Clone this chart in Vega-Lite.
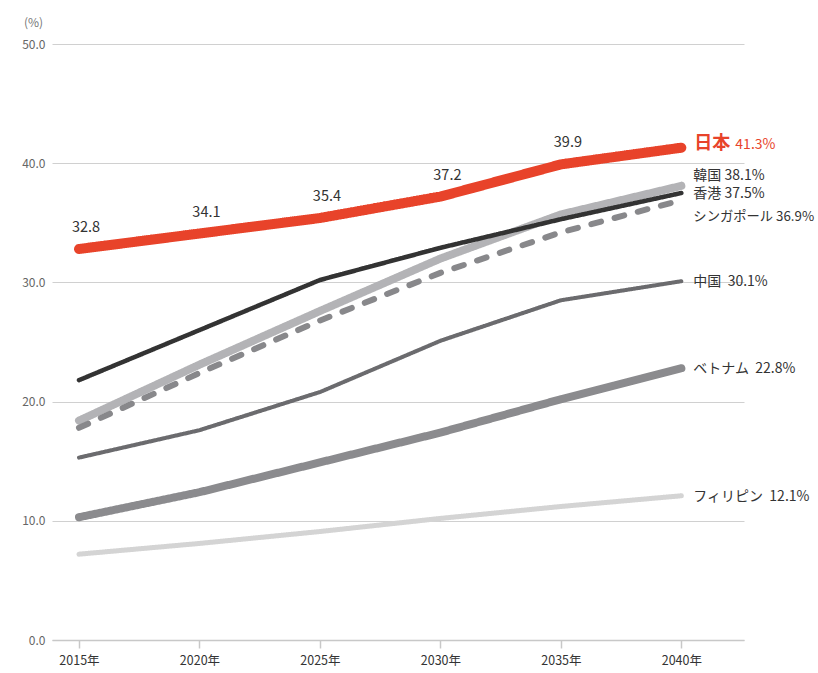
{
  "$schema": "https://vega.github.io/schema/vega-lite/v6.json",
  "width": 692,
  "height": 596,
  "autosize": "none",
  "padding": {"left": 52, "top": 44, "right": 74, "bottom": 33},
  "config": {"view": {"stroke": null}, "font": "Noto Sans CJK JP"},
  "data": {
    "values": [
      {"country": "フィリピン", "year": 2015, "value": 7.2},
      {"country": "フィリピン", "year": 2020, "value": 8.1},
      {"country": "フィリピン", "year": 2025, "value": 9.1},
      {"country": "フィリピン", "year": 2030, "value": 10.2},
      {"country": "フィリピン", "year": 2035, "value": 11.2},
      {"country": "フィリピン", "year": 2040, "value": 12.1},
      {"country": "ベトナム", "year": 2015, "value": 10.3},
      {"country": "ベトナム", "year": 2020, "value": 12.4},
      {"country": "ベトナム", "year": 2025, "value": 14.9},
      {"country": "ベトナム", "year": 2030, "value": 17.4},
      {"country": "ベトナム", "year": 2035, "value": 20.2},
      {"country": "ベトナム", "year": 2040, "value": 22.8},
      {"country": "中国", "year": 2015, "value": 15.3},
      {"country": "中国", "year": 2020, "value": 17.6},
      {"country": "中国", "year": 2025, "value": 20.8},
      {"country": "中国", "year": 2030, "value": 25.1},
      {"country": "中国", "year": 2035, "value": 28.5},
      {"country": "中国", "year": 2040, "value": 30.1},
      {"country": "韓国", "year": 2015, "value": 18.4},
      {"country": "韓国", "year": 2020, "value": 23.1},
      {"country": "韓国", "year": 2025, "value": 27.6},
      {"country": "韓国", "year": 2030, "value": 32.0},
      {"country": "韓国", "year": 2035, "value": 35.7},
      {"country": "韓国", "year": 2040, "value": 38.1},
      {"country": "シンガポール", "year": 2015, "value": 17.8},
      {"country": "シンガポール", "year": 2020, "value": 22.4},
      {"country": "シンガポール", "year": 2025, "value": 26.8},
      {"country": "シンガポール", "year": 2030, "value": 30.8},
      {"country": "シンガポール", "year": 2035, "value": 34.2},
      {"country": "シンガポール", "year": 2040, "value": 36.9},
      {"country": "香港", "year": 2015, "value": 21.8},
      {"country": "香港", "year": 2020, "value": 26.0},
      {"country": "香港", "year": 2025, "value": 30.2},
      {"country": "香港", "year": 2030, "value": 32.9},
      {"country": "香港", "year": 2035, "value": 35.3},
      {"country": "香港", "year": 2040, "value": 37.5},
      {"country": "日本", "year": 2015, "value": 32.8},
      {"country": "日本", "year": 2020, "value": 34.1},
      {"country": "日本", "year": 2025, "value": 35.4},
      {"country": "日本", "year": 2030, "value": 37.2},
      {"country": "日本", "year": 2035, "value": 39.9},
      {"country": "日本", "year": 2040, "value": 41.3}
    ]
  },
  "encoding": {
    "x": {
      "field": "year",
      "type": "quantitative",
      "scale": {"domain": [2013.88, 2042.6], "nice": false, "zero": false},
      "axis": {
        "values": [2015, 2020, 2025, 2030, 2035, 2040],
        "labelExpr": "datum.value + '年'",
        "title": null,
        "grid": false,
        "domainColor": "#c8c8c8",
        "domainWidth": 1.5,
        "tickColor": "#c8c8c8",
        "tickSize": 8,
        "tickWidth": 1.5,
        "labelFontSize": 12.5,
        "labelColor": "#333333",
        "labelPadding": 6
      }
    },
    "y": {
      "field": "value",
      "type": "quantitative",
      "scale": {"domain": [0, 50], "nice": false},
      "axis": {
        "values": [0, 10, 20, 30, 40, 50],
        "format": ".1f",
        "title": "(%)",
        "titleAngle": 0,
        "titleX": -19,
        "titleY": -22,
        "titleAlign": "center",
        "titleBaseline": "middle",
        "titleFontWeight": "normal",
        "titleFontSize": 12,
        "titleColor": "#777777",
        "domain": false,
        "ticks": false,
        "labelPadding": 7,
        "labelColor": "#666666",
        "labelFontSize": 12,
        "gridColor": "#d0d0d0"
      }
    }
  },
  "layer": [
    {
      "mark": {"type": "line", "strokeCap": "round", "strokeJoin": "round"},
      "encoding": {
        "color": {
          "field": "country",
          "type": "nominal",
          "scale": {
            "domain": ["フィリピン", "ベトナム", "中国", "韓国", "シンガポール", "香港", "日本"],
            "range": ["#d4d4d4", "#8b8b8e", "#6b6b6e", "#b3b3b6", "#88888b", "#333333", "#e8432a"]
          },
          "legend": null
        },
        "strokeWidth": {
          "field": "country",
          "type": "nominal",
          "scale": {
            "type": "ordinal",
            "domain": ["フィリピン", "ベトナム", "中国", "韓国", "シンガポール", "香港", "日本"],
            "range": [5, 8, 4, 8, 6, 4.5, 10]
          },
          "legend": null
        },
        "strokeDash": {
          "field": "country",
          "type": "nominal",
          "scale": {
            "domain": ["フィリピン", "ベトナム", "中国", "韓国", "シンガポール", "香港", "日本"],
            "range": [[1, 0], [1, 0], [1, 0], [1, 0], [10, 14], [1, 0], [1, 0]]
          },
          "legend": null
        }
      }
    },
    {
      "transform": [{"filter": "datum.country === '日本' && datum.year < 2040"}],
      "mark": {"type": "text", "dx": 7, "dy": -21, "fontSize": 14.5, "color": "#333333", "baseline": "middle"},
      "encoding": {"text": {"field": "value", "type": "quantitative", "format": ".1f"}}
    },
    {
      "transform": [{"filter": "datum.country === '日本' && datum.year === 2040"}],
      "mark": {"type": "text", "dx": 13, "dy": -4, "align": "left", "baseline": "middle", "fontSize": 18, "fontWeight": "bold", "color": "#e8432a"},
      "encoding": {"text": {"field": "country", "type": "nominal"}}
    },
    {
      "transform": [
        {"filter": "datum.country === '日本' && datum.year === 2040"},
        {"calculate": "format(datum.value, '.1f') + '%'", "as": "label"}
      ],
      "mark": {"type": "text", "dx": 54, "dy": -3, "align": "left", "baseline": "middle", "fontSize": 14, "color": "#e8432a"},
      "encoding": {"text": {"field": "label", "type": "nominal"}}
    },
    {
      "transform": [
        {"filter": "datum.year === 2040 && (datum.country === '中国' || datum.country === 'ベトナム' || datum.country === 'フィリピン' || datum.country === '香港')"},
        {"calculate": "datum.country + (datum.country === '香港' ? ' ' : '\u00a0\u00a0') + format(datum.value, '.1f') + '%'", "as": "label"}
      ],
      "mark": {"type": "text", "dx": 12, "dy": 1, "align": "left", "baseline": "middle", "fontSize": 14, "color": "#333333"},
      "encoding": {"text": {"field": "label", "type": "nominal"}}
    },
    {
      "transform": [
        {"filter": "datum.year === 2040 && datum.country === '韓国'"},
        {"calculate": "datum.country + ' ' + format(datum.value, '.1f') + '%'", "as": "label"}
      ],
      "mark": {"type": "text", "dx": 12, "dy": -10, "align": "left", "baseline": "middle", "fontSize": 14, "color": "#333333"},
      "encoding": {"text": {"field": "label", "type": "nominal"}}
    },
    {
      "transform": [
        {"filter": "datum.year === 2040 && datum.country === 'シンガポール'"},
        {"calculate": "datum.country + ' ' + format(datum.value, '.1f') + '%'", "as": "label"}
      ],
      "mark": {"type": "text", "dx": 12, "dy": 17, "align": "left", "baseline": "middle", "fontSize": 13.3, "color": "#333333"},
      "encoding": {"text": {"field": "label", "type": "nominal"}}
    }
  ]
}
